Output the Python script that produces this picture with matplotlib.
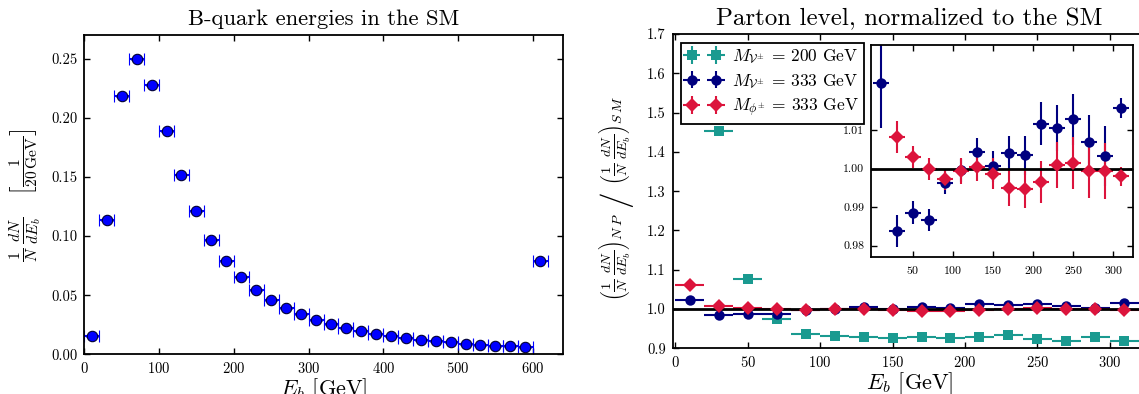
import numpy as np
import matplotlib
matplotlib.use("Agg")
import matplotlib.pyplot as plt
from matplotlib.ticker import FormatStrFormatter

plt.rcParams['font.family'] = ['cmr10', 'DejaVu Serif']
plt.rcParams['mathtext.fontset'] = 'cm'
plt.rcParams['axes.unicode_minus'] = False
plt.rcParams['axes.formatter.use_mathtext'] = True

# ---------------- data ----------------
# left: SM b-quark energy spectrum (bin centres, 20 GeV bins)
sm_E = [10, 30, 50, 70, 90, 110, 130, 150, 170, 190, 210, 230, 250, 270, 290,
        310, 330, 350, 370, 390, 410, 430, 450, 470, 490, 510, 530, 550, 570, 590, 610]
sm_val = [0.0158, 0.1138, 0.2180, 0.2494, 0.2280, 0.1884, 0.1520, 0.1209, 0.0969,
          0.0785, 0.0653, 0.0540, 0.0458, 0.0390, 0.0339, 0.0291, 0.0257, 0.0223,
          0.0198, 0.0175, 0.0155, 0.0138, 0.0124, 0.0113, 0.0102, 0.0090, 0.0082,
          0.0073, 0.0068, 0.0059, 0.0785]
bin_half = 10

# right: ratios to SM
E = [10, 30, 50, 70, 90, 110, 130, 150, 170, 190, 210, 230, 250, 270, 290, 310]

teal_E = [30, 50, 70, 90, 110, 130, 150, 170, 190, 210, 230, 250, 270, 290, 310]
teal_val = [1.454, 1.077, 0.975, 0.937, 0.932, 0.929, 0.926, 0.929, 0.925, 0.929,
            0.934, 0.923, 0.918, 0.929, 0.918]
teal_err = [0.004] * 15

navy_val = [1.0222, 0.9838, 0.9885, 0.9866, 0.9963, 0.9995, 1.0043, 1.0006, 1.0040,
            1.0034, 1.0116, 1.0105, 1.0127, 1.0070, 1.0032, 1.0156]
navy_err = [0.0117, 0.0041, 0.0030, 0.0028, 0.0030, 0.0030, 0.0035, 0.0040, 0.0043,
            0.0050, 0.0056, 0.0060, 0.0067, 0.0069, 0.0077, 0.0026]

red_val = [1.062, 1.0081, 1.0030, 0.9999, 0.9972, 0.9993, 1.0003, 0.9987, 0.9950,
           0.9947, 0.9965, 1.0010, 1.0015, 0.9993, 0.9993, 0.9980]
red_err = [0.0042, 0.0042, 0.0028, 0.0029, 0.0027, 0.0033, 0.0036, 0.0039, 0.0047,
           0.0050, 0.0055, 0.0060, 0.0067, 0.0069, 0.0072, 0.0025]

labels = [r'$M_{\mathcal{V}^{\pm}}$ = 200 GeV',
          r'$M_{\mathcal{V}^{\pm}}$ = 333 GeV',
          r'$M_{\phi^{\pm}}$ = 333 GeV']
TEAL = '#1a9a90'
NAVY = '#00007f'
RED = '#dc143c'

# ---------------- figure ----------------
W, H = 1139, 394
fig = plt.figure(figsize=(W / 100, H / 100), dpi=100)

def px_axes(l, t, r, b):
    return fig.add_axes([l / W, (H - b) / H, (r - l) / W, (b - t) / H])

def style(ax, size=10.5, length=4.5):
    ax.tick_params(direction='in', top=True, right=True, length=length, width=1.0,
                   labelsize=size, pad=5)
    for s in ax.spines.values():
        s.set_linewidth(1.3)

# left panel
ax1 = px_axes(84.3, 35, 562.7, 354.3)
ax1.errorbar(sm_E, sm_val, xerr=bin_half, yerr=0.0008, fmt='o', color='blue',
             mfc='blue', mec='#000033', mew=0.8, ms=7.5, ecolor='blue',
             elinewidth=1.5, capsize=4, capthick=1.5)
ax1.set_xlim(0, 640)
ax1.set_ylim(0, 0.27)
ax1.set_yticks([0, 0.05, 0.10, 0.15, 0.20, 0.25])
ax1.yaxis.set_major_formatter(FormatStrFormatter('%.2f'))
ax1.set_xticks([0, 100, 200, 300, 400, 500, 600])
style(ax1)
ax1.set_title('B-quark energies in the SM', fontsize=16.3, pad=7)
ax1.set_xlabel(r'$E_b$ [GeV]', fontsize=16, labelpad=0)
ax1.set_ylabel(r'$\frac{1}{N}\,\frac{dN}{dE_b}\quad\left[\frac{1}{20\,\mathrm{GeV}}\right]$',
               fontsize=16, labelpad=6)

# right panel
ax2 = px_axes(672.7, 34, 1146, 348.3)
kw = dict(elinewidth=1.5, capsize=4, capthick=1.5, mew=0)
ax2.errorbar(teal_E, teal_val, xerr=bin_half, yerr=teal_err, fmt='s', color=TEAL,
             ms=7, label=labels[0], **kw)
ax2.errorbar(E, navy_val, xerr=bin_half, yerr=navy_err, fmt='o', color=NAVY,
             ms=7.5, label=labels[1], **kw)
ax2.errorbar(E, red_val, xerr=bin_half, yerr=red_err, fmt='D', color=RED,
             ms=7, label=labels[2], **kw)
ax2.axhline(1.0, color='black', lw=2)
ax2.set_xlim(-1.8, 325)
ax2.set_ylim(0.9, 1.7)
ax2.set_xticks([0, 50, 100, 150, 200, 250, 300])
ax2.set_yticks(np.arange(0.9, 1.71, 0.1))
ax2.yaxis.set_major_formatter(FormatStrFormatter('%.1f'))
style(ax2)
ax2.set_title('Parton level, normalized to the SM', fontsize=18, pad=6)
ax2.set_xlabel(r'$E_b$ [GeV]', fontsize=16, labelpad=0)

# y label of right panel built from three rotated pieces (big slash in the middle)
xl = 614 / W
fig.text(xl, (H - 213) / H, r'$\left(\frac{1}{N}\,\frac{dN}{dE_b}\right)_{N\,P}$',
         rotation=90, ha='center', va='top', fontsize=14.5)
fig.text(xl + 1 / W, (H - 199) / H, '/', rotation=90, ha='center', va='center',
         fontsize=24)
fig.text(xl, (H - 185) / H, r'$\left(\frac{1}{N}\,\frac{dN}{dE_b}\right)_{S\,M}$',
         rotation=90, ha='center', va='bottom', fontsize=14.5)

leg = ax2.legend(loc='upper left', numpoints=2, fontsize=12.5, fancybox=False,
                 edgecolor='black', framealpha=1, borderaxespad=0.5,
                 handlelength=2.0, handletextpad=0.6, labelspacing=0.35,
                 borderpad=0.3)
leg.get_frame().set_linewidth(1.3)

# inset
ax3 = px_axes(871, 45, 1133.3, 257.3)
ax3.errorbar(E, navy_val, xerr=bin_half, yerr=navy_err, fmt='o', color=NAVY,
             ms=7.5, **kw)
ax3.errorbar(E, red_val, xerr=bin_half, yerr=red_err, fmt='D', color=RED,
             ms=7, **kw)
ax3.axhline(1.0, color='black', lw=2)
ax3.set_xlim(-2.5, 325)
ax3.set_ylim(0.977, 1.032)
ax3.set_xticks([50, 100, 150, 200, 250, 300])
ax3.set_yticks([0.98, 0.99, 1.00, 1.01])
ax3.yaxis.set_major_formatter(FormatStrFormatter('%.2f'))
style(ax3, size=8.5, length=4)

fig.savefig('out.png', dpi=100)
